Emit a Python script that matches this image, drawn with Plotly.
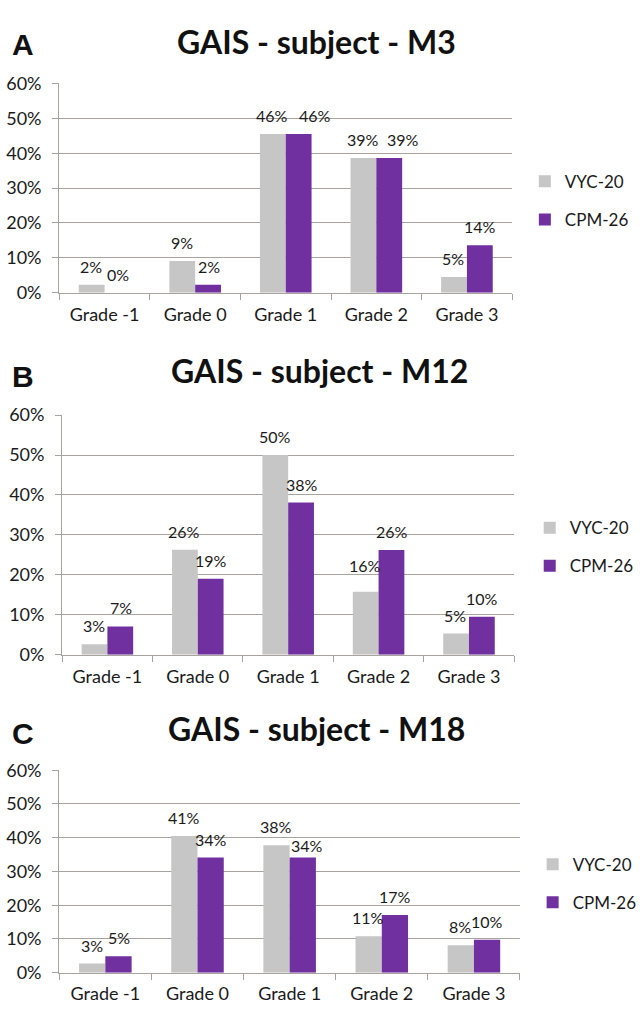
import plotly.graph_objects as go

# ---------------- data ----------------
categories = ["Grade -1", "Grade 0", "Grade 1", "Grade 2", "Grade 3"]
series_names = ["VYC-20", "CPM-26"]
panel_letters = ["A", "B", "C"]
panel_titles = ["GAIS - subject - M3", "GAIS - subject - M12", "GAIS - subject - M18"]

vyc_m3 = [2.3, 9.1, 45.5, 38.6, 4.5]
cpm_m3 = [0.0, 2.3, 45.5, 38.6, 13.6]
vyc_m12 = [2.6, 26.3, 50.0, 15.8, 5.3]
cpm_m12 = [7.1, 19.0, 38.1, 26.2, 9.5]
vyc_m18 = [2.7, 40.5, 37.8, 10.8, 8.1]
cpm_m18 = [4.9, 34.1, 34.1, 17.1, 9.8]

y_ticks = [0, 10, 20, 30, 40, 50, 60]

# ---------------- style / layout ----------------
W, H = 642, 1015
GRAY = "#c6c6c6"
PURPLE = "#7030a0"
GRID = "#a8a39e"
TXT = "#1a1a1a"
FONT = "Lato"

# plot boxes in pixels: (left, right, top, bottom)
boxes = [(61, 527, 73, 287), (64, 529, 412, 657), (61, 535, 775, 982)]
title_pos = [(326, 30), (329, 366), (326, 732)]
letter_pos = [(24, 33), (24, 373), (24, 737)]
legend_pos = [(193, 540), (547, 545), (891, 548)]  # (center y, left x)

# manual label nudges (dx, dy px) for overlapping labels, as in the original
nudges = {(0, 1, 2): (16, 0), (0, 1, 3): (13, 0), (1, 0, 3): (0, 8), (2, 1, 2): (4, -6)}


def px_x(x):
    return x / W


def px_y(y):
    return 1 - y / H


panels = [(vyc_m3, cpm_m3), (vyc_m12, cpm_m12), (vyc_m18, cpm_m18)]
colors = [GRAY, PURPLE]

fig = go.Figure()
annotations = []

for p, (vals_a, vals_b) in enumerate(panels):
    sfx = "" if p == 0 else str(p + 1)
    legend_name = "legend" + sfx
    for s, vals in enumerate([vals_a, vals_b]):
        fig.add_trace(go.Bar(
            x=categories, y=vals, name=series_names[s],
            marker=dict(color=colors[s], line=dict(width=0)),
            xaxis="x" + sfx, yaxis="y" + sfx,
            offsetgroup=str(s),
            legend=legend_name, legendgroup=f"{p}-{s}",
            hoverinfo="x+y+name",
        ))
        for i, v in enumerate(vals):
            dx, dy = nudges.get((p, s, i), (0, 0))
            annotations.append(dict(
                x=categories[i], y=v, xref="x" + sfx, yref="y" + sfx,
                text=f"{int(v + 0.5)}%", showarrow=False,
                xshift=(-13.5 if s == 0 else 13.5) + dx, yshift=18.5 + dy,
                yanchor="middle", xanchor="center",
                font=dict(family=FONT, size=16, color=TXT),
            ))

    l, r, t, b = boxes[p]
    fig.layout["xaxis" + sfx] = dict(
        domain=[px_x(l), px_x(r)], anchor="y" + sfx, type="category",
        range=[-0.5, 4.5], showgrid=False, showline=True, linecolor=GRID, linewidth=1.3,
        ticks="outside", tickson="boundaries", ticklen=6, tickcolor=GRID, tickwidth=1.3,
        tickfont=dict(family=FONT, size=18, color=TXT), ticklabelstandoff=5,
        fixedrange=True,
    )
    fig.layout["yaxis" + sfx] = dict(
        domain=[px_y(b), px_y(t)], anchor="x" + sfx, range=[0, 60],
        tickvals=y_ticks, ticktext=[f"{v}%" for v in y_ticks],
        showgrid=True, gridcolor=GRID, gridwidth=1.3, zeroline=False,
        showline=True, linecolor=GRID, linewidth=1.3,
        ticks="outside", ticklen=6, tickcolor=GRID, tickwidth=1.3,
        tickfont=dict(family=FONT, size=18, color=TXT), ticklabelstandoff=7,
        fixedrange=True,
    )
    cy, lx = legend_pos[p]
    fig.layout[legend_name] = dict(
        x=px_x(lx), y=px_y(cy), xanchor="left", yanchor="middle",
        traceorder="grouped", tracegroupgap=13, bgcolor="rgba(0,0,0,0)",
        font=dict(family=FONT, size=17, color=TXT),
    )
    tx, ty = title_pos[p]
    annotations.append(dict(
        x=px_x(tx), y=px_y(ty), xref="paper", yref="paper", text=f"<b>{panel_titles[p]}</b>",
        showarrow=False, xanchor="center", yanchor="middle",
        font=dict(family=FONT, size=32, color="#111111"),
    ))
    lxp, lyp = letter_pos[p]
    annotations.append(dict(
        x=px_x(lxp), y=px_y(lyp), xref="paper", yref="paper", text=f"<b>{panel_letters[p]}</b>",
        showarrow=False, xanchor="center", yanchor="middle",
        font=dict(family="Liberation Sans", size=30, color="#111111"),
    ))

fig.update_layout(
    width=W, height=H, margin=dict(l=0, r=0, t=0, b=0),
    paper_bgcolor="white", plot_bgcolor="white",
    barmode="group", bargap=0.43, bargroupgap=0,
    annotations=annotations, showlegend=True,
)

fig.write_html("out.html")
